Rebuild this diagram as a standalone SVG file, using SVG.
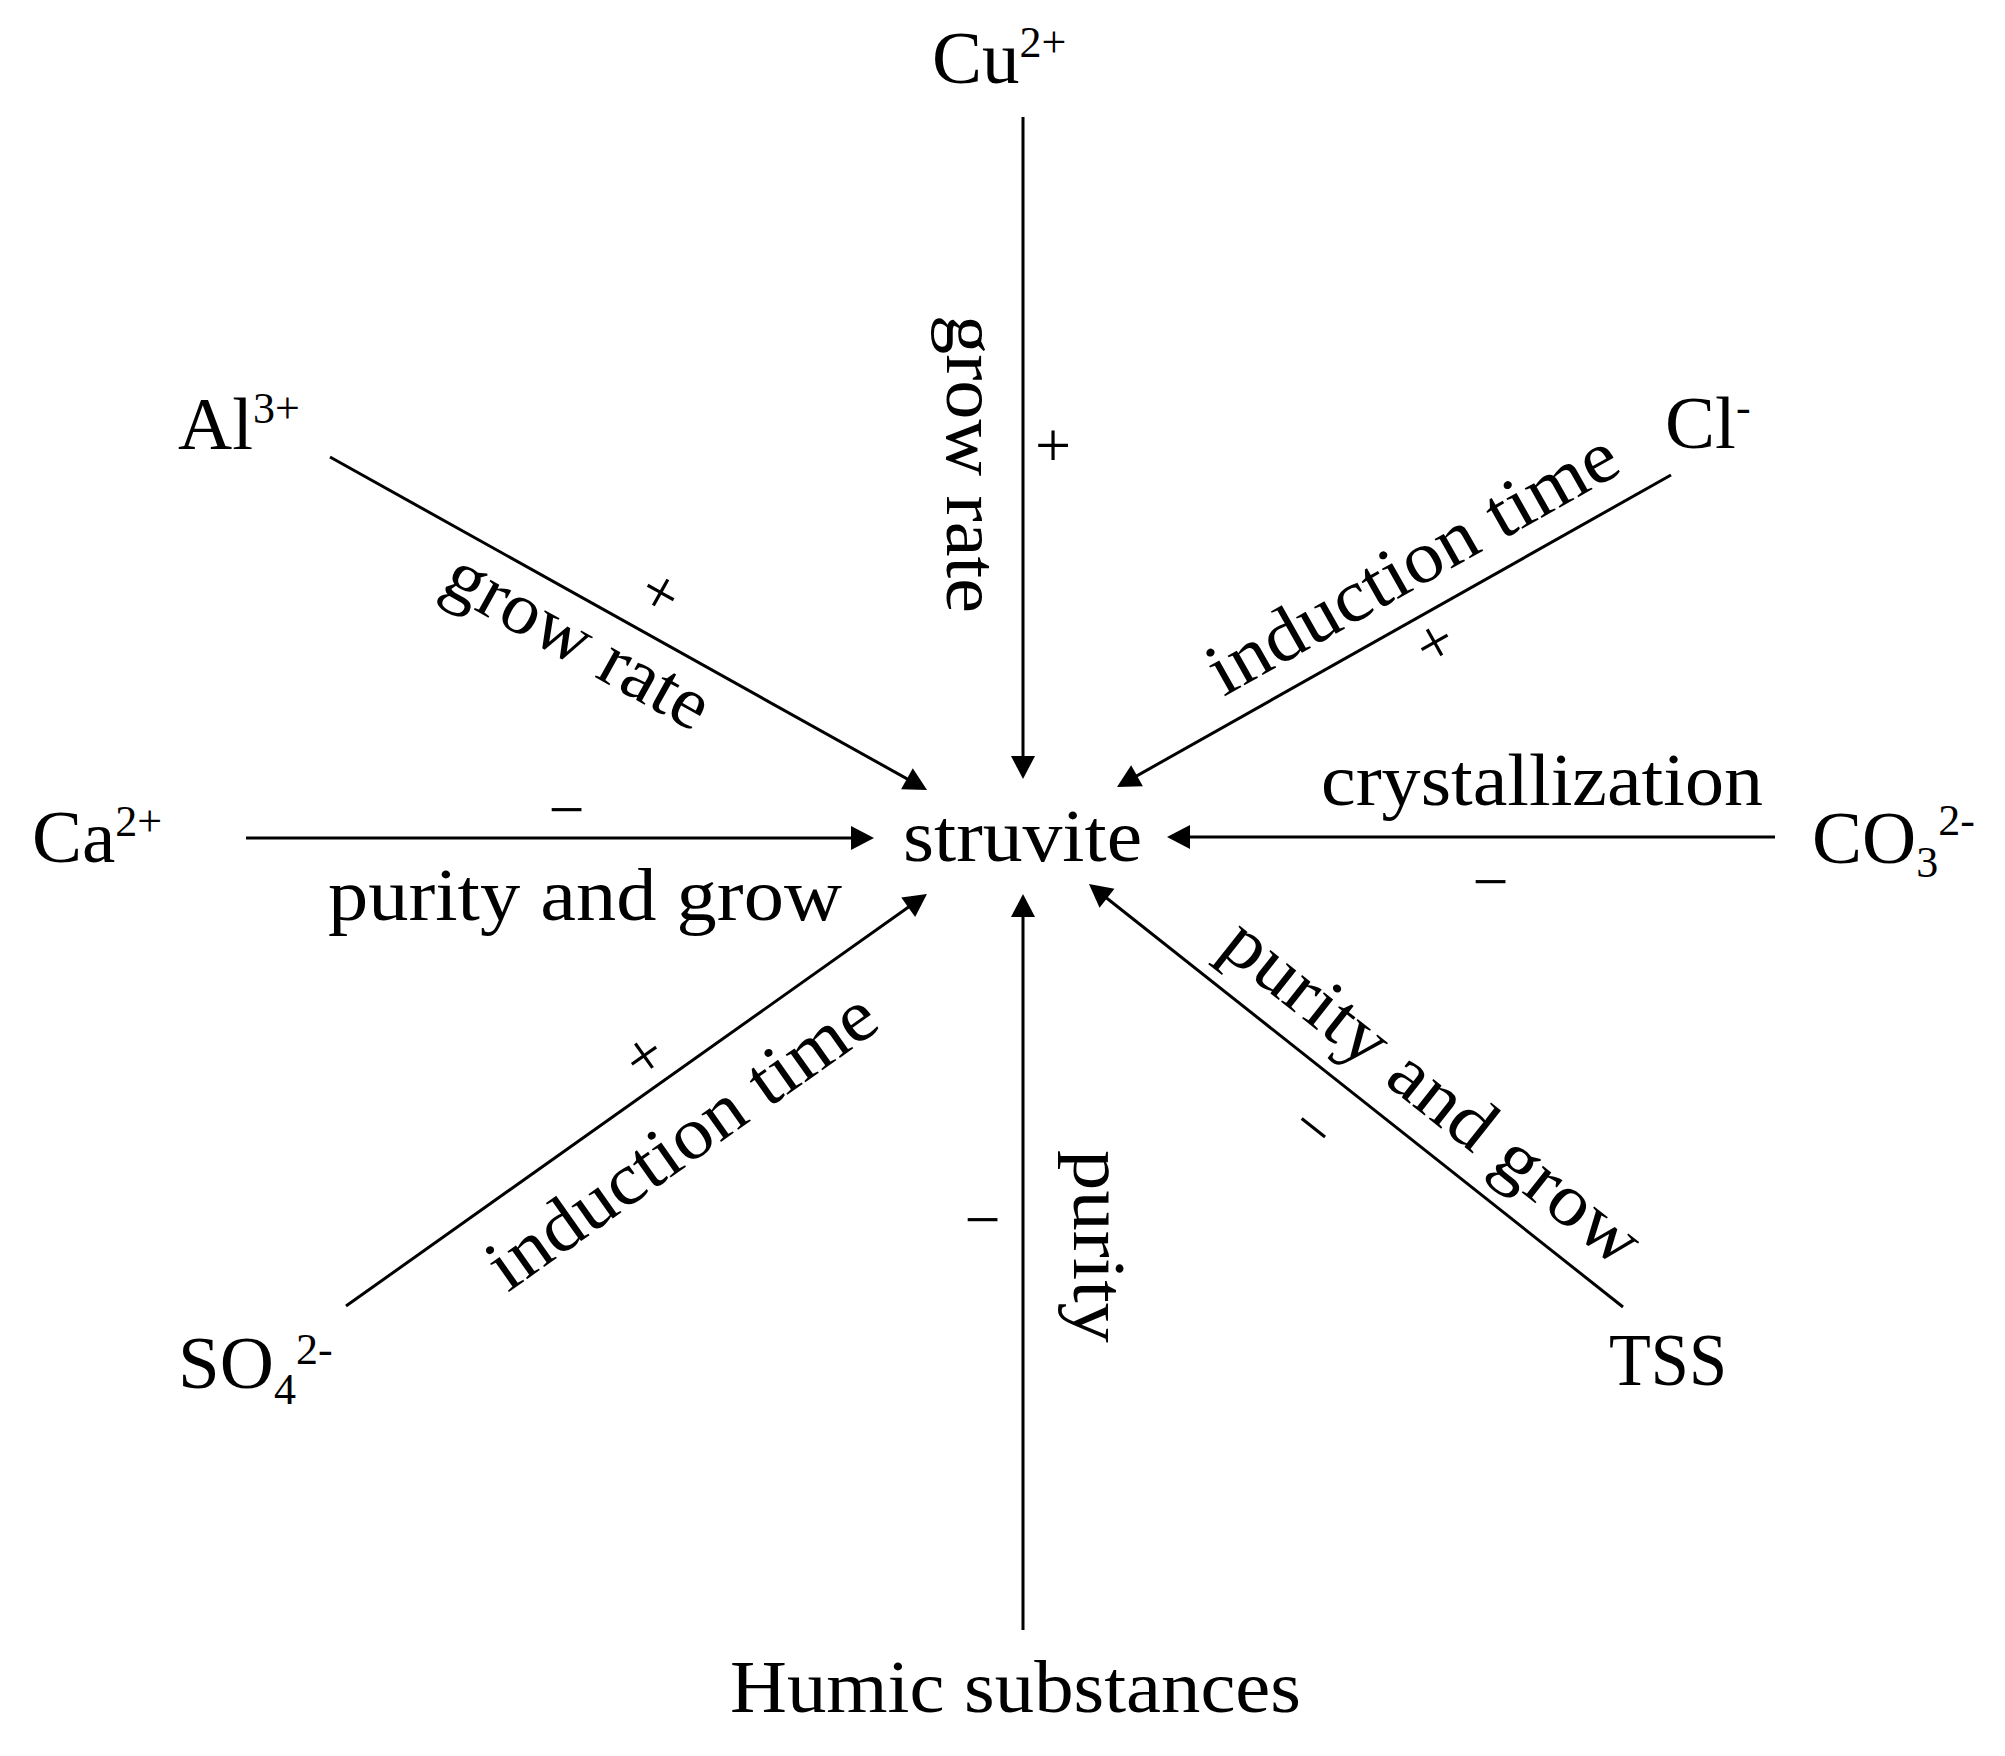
<svg xmlns="http://www.w3.org/2000/svg" width="2005" height="1756" viewBox="0 0 2005 1756">
<defs>
<marker id="arr" markerUnits="userSpaceOnUse" markerWidth="24" markerHeight="24" refX="13" refY="12" orient="auto" overflow="visible">
<path d="M0,0 L23,12 L0,24 Z" fill="#000"/>
</marker>
<style>
.n{font-family:"Liberation Serif","Times New Roman",serif;font-size:75px;fill:#000}
.l{font-family:"Liberation Serif","Times New Roman",serif;font-size:74px;fill:#000}
.s{font-size:44px}
.pm{font-family:"Liberation Serif","Times New Roman",serif;font-size:64px;fill:#000;text-anchor:middle}
.c{stroke:#000;stroke-width:3;fill:none;marker-end:url(#arr)}
</style>
</defs>
<rect width="2005" height="1756" fill="#fff"/>
<g id="connectors">
<line class="c" x1="1023" y1="117" x2="1023" y2="769"/>
<line class="c" x1="330" y1="457" x2="918.3" y2="785.1"/>
<line class="c" x1="1671" y1="475" x2="1125.7" y2="782.1"/>
<line class="c" x1="246" y1="838" x2="864" y2="838"/>
<line class="c" x1="1775" y1="837" x2="1177" y2="837"/>
<line class="c" x1="346" y1="1306" x2="918.8" y2="899.8"/>
<line class="c" x1="1023" y1="1630" x2="1023" y2="904"/>
<line class="c" x1="1623" y1="1307" x2="1096.8" y2="890.2"/>
</g>
<g id="edge-labels">
<text class="l" transform="translate(947,315) rotate(90)" textLength="298" lengthAdjust="spacingAndGlyphs">grow rate</text>
<text class="pm" x="1053" y="467">+</text>
<text class="l" transform="translate(439,590) rotate(29.15)" textLength="292" lengthAdjust="spacingAndGlyphs">grow rate</text>
<text class="pm" transform="translate(658,597) rotate(29.15)" y="16">+</text>
<text class="l" transform="translate(1223.6,697) rotate(-29.4)" textLength="460" lengthAdjust="spacingAndGlyphs">induction time</text>
<text class="pm" transform="translate(1437,647) rotate(-29.4)" y="16">+</text>
<text class="l" x="328" y="920" textLength="514" lengthAdjust="spacingAndGlyphs">purity and grow</text>
<text class="pm" x="566.5" y="831">−</text>
<text class="l" x="1321" y="805" textLength="442" lengthAdjust="spacingAndGlyphs">crystallization</text>
<text class="pm" x="1490.5" y="903">−</text>
<text class="l" transform="translate(507.6,1293) rotate(-35.3)" textLength="460" lengthAdjust="spacingAndGlyphs">induction time</text>
<text class="pm" transform="translate(647,1060) rotate(-35.3)" y="16">+</text>
<text class="l" transform="translate(1074,1150) rotate(90)" textLength="193" lengthAdjust="spacingAndGlyphs">purity</text>
<text class="pm" x="982.5" y="1241">−</text>
<text class="l" transform="translate(1217,951) rotate(38.4)" textLength="512" lengthAdjust="spacingAndGlyphs">purity and grow</text>
<text class="pm" transform="translate(1310,1132) rotate(38.4)" y="16">−</text>
</g>
<g id="struvite"><text class="l" x="903" y="861" textLength="239" lengthAdjust="spacingAndGlyphs">struvite</text></g>
<g id="Cu"><text class="n" x="932" y="83">Cu<tspan class="s" dy="-26">2+</tspan></text></g>
<g id="Al"><text class="n" x="178" y="449">Al<tspan class="s" dy="-26">3+</tspan></text></g>
<g id="Cl"><text class="n" x="1665" y="448">Cl<tspan class="s" dy="-26">-</tspan></text></g>
<g id="Ca"><text class="n" x="32" y="862">Ca<tspan class="s" dy="-26">2+</tspan></text></g>
<g id="CO3"><text class="n" x="1812" y="863">CO<tspan class="s" dy="14">3</tspan><tspan class="s" dy="-42">2-</tspan></text></g>
<g id="SO4"><text class="n" x="178" y="1388">SO<tspan class="s" dy="16">4</tspan><tspan class="s" dy="-40">2-</tspan></text></g>
<g id="TSS"><text class="n" x="1609" y="1385" textLength="118" lengthAdjust="spacingAndGlyphs">TSS</text></g>
<g id="Humic"><text class="l" x="730" y="1712" textLength="571" lengthAdjust="spacingAndGlyphs">Humic substances</text></g>
</svg>
